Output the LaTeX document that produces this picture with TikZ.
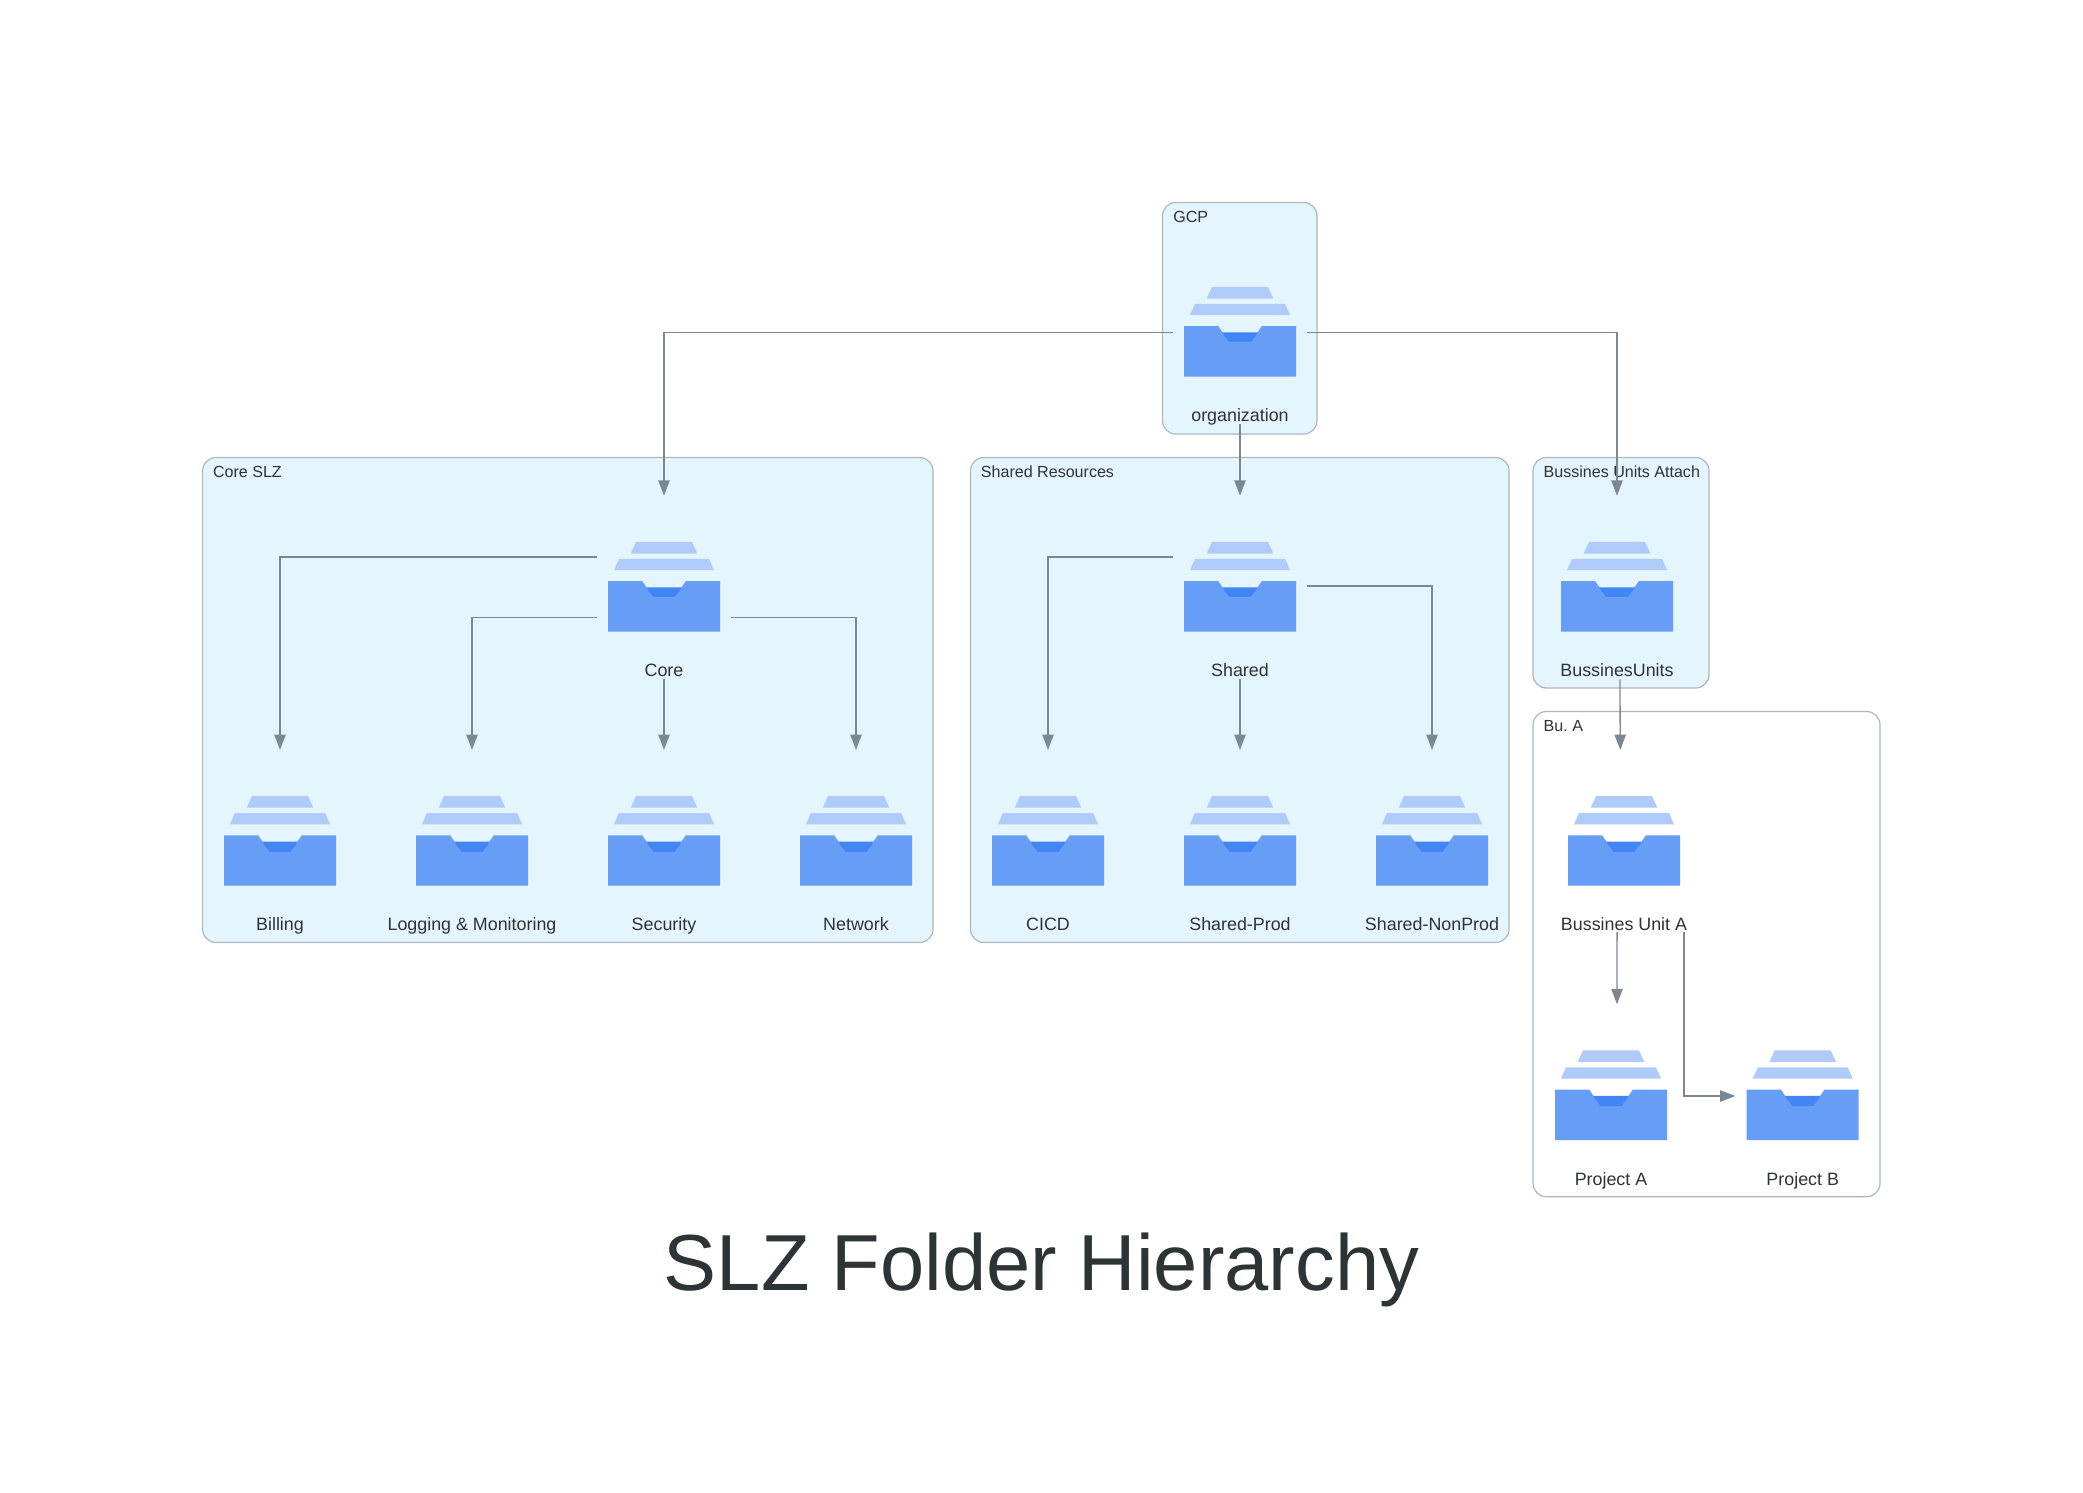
\documentclass[tikz,border=0pt]{standalone}
\usepackage{fontspec}
\setmainfont{Liberation Sans}
\usetikzlibrary{arrows.meta}
\definecolor{clfill}{HTML}{E5F5FD}
\definecolor{clline}{HTML}{AEB6BE}
\definecolor{edgec}{HTML}{7B8793}
\definecolor{txtc}{HTML}{2D3436}
\definecolor{fmain}{HTML}{669DF6}
\definecolor{flight}{HTML}{AECBFA}
\definecolor{fdark}{HTML}{4285F4}
\frenchspacing
\tikzset{
  folderbox/.style={rectangle,minimum width=100.5pt,minimum height=137.25pt,inner sep=0pt},
  folderlabel/.style={anchor=base,inner sep=0pt,text=txtc,font=\fontsize{13.4pt}{15pt}\selectfont},
  clusterbox/.style={draw=clline,line width=0.9pt,rounded corners=10pt},
  clusterlabel/.style={anchor=base west,inner sep=0pt,text=txtc,font=\fontsize{12.05pt}{14pt}\selectfont},
  edge/.style={draw=edgec,line width=1pt,-{Triangle[length=11.5pt,width=8.5pt]}},
  titletext/.style={anchor=base,inner sep=0pt,text=txtc,font=\fontsize{59.6pt}{70pt}\selectfont}
}
\newcommand{\folder}[4]{%
  \node[folderbox] (#1) at (#2,#3) {};
  \begin{scope}[shift={(#2,#3)}]
    \fill[flight] (-28,-45.7)--(28,-45.7)--(33.3,-34)--(-33.3,-34)--cycle;
    \fill[flight] (-45,-28.7)--(45,-28.7)--(50,-17.4)--(-50,-17.4)--cycle;
    \fill[fmain] (-56,-6.3)--(-21.7,-6.3)--(-10.7,10.2)--(10.7,10.2)--(21.7,-6.3)--(56,-6.3)--(56,44)--(-56,44)--cycle;
    \fill[fdark] (-18,-0.1)--(18,-0.1)--(10.7,10.2)--(-10.7,10.2)--cycle;
  \end{scope}
  \node[folderlabel] (#1-label) at (#2,#3+89) {#4};
}
\newcommand{\cluster}[6]{%
  \node[clusterbox,fill=#6,minimum width=#4*0.75pt-#2*0.75pt,minimum height=#5*0.75pt-#3*0.75pt,inner sep=0pt,anchor=north west,
        outer sep=0pt] (#1) at (#2,#3) {};
}
\begin{document}
\begin{tikzpicture}[x=0.75pt,y=-0.75pt]
\useasboundingbox (0,0) rectangle (2083,1492);
% clusters
\cluster{cgcp}{1162.5}{202.5}{1317}{434}{clfill}
\cluster{ccore}{202.6}{457.5}{933}{942.5}{clfill}
\cluster{cshared}{970.5}{457.5}{1509}{942.5}{clfill}
\cluster{cbu}{1533}{457.5}{1709}{688}{clfill}
\cluster{cbua}{1533}{711.5}{1880}{1196.7}{white}
\node[clusterlabel] (lgcp) at (1173,222.9) {GCP};
\node[clusterlabel] (lcore) at (212.8,477.9) {Core SLZ};
\node[clusterlabel] (lshared) at (980.7,477.9) {Shared Resources};
\node[clusterlabel] (lbu) at (1543.4,477.9) {Bussines Units Attach};
\node[clusterlabel] (lbua) at (1543.4,731.9) {Bu. A};
% folders
\folder{org}{1240}{332.5}{organization}
\folder{core}{664}{587.5}{Core}
\folder{shared}{1240}{587.5}{Shared}
\folder{bu}{1617}{587.5}{BussinesUnits}
\folder{billing}{280}{841.7}{Billing}
\folder{logging}{472}{841.7}{Logging \& Monitoring}
\folder{security}{664}{841.7}{Security}
\folder{network}{856}{841.7}{Network}
\folder{cicd}{1048}{841.7}{CICD}
\folder{sprod}{1240}{841.7}{Shared-Prod}
\folder{snon}{1432}{841.7}{Shared-NonProd}
\folder{bua}{1624}{841.7}{Bussines Unit A}
\folder{pa}{1611}{1096}{Project A}
\folder{pb}{1802.7}{1096}{Project B}
% edges
\draw[edge] (org.west) -| (core.north);
\draw[edge] (org.south) -- (shared.north);
\draw[edge] (org.east) -| (bu.north);
\draw[edge] ([yshift=22.9pt]core.west) -| (billing.north);
\draw[edge] ([yshift=-22.4pt]core.west) -| (logging.north);
\draw[edge] (core.south) -- (security.north);
\draw[edge] ([yshift=-22.4pt]core.east) -| (network.north);
\draw[edge] ([yshift=22.9pt]shared.west) -| (cicd.north);
\draw[edge] (shared.south) -- (sprod.north);
\draw[edge] ([yshift=1.2pt]shared.east) -| (snon.north);
\draw[edge] ([xshift=2.2pt]bu.south) -- ([xshift=-2.8pt]bua.north);
\draw[edge] ([xshift=-5.2pt,yshift=1pt]bua.south) -- ([xshift=4.5pt]pa.north);
\draw[edge] ([xshift=45pt,yshift=1pt]bua.south) |- (pb.west);
% title
\node[titletext] (title) at (1041.5,1290) {SLZ Folder Hierarchy};
\end{tikzpicture}
\end{document}
